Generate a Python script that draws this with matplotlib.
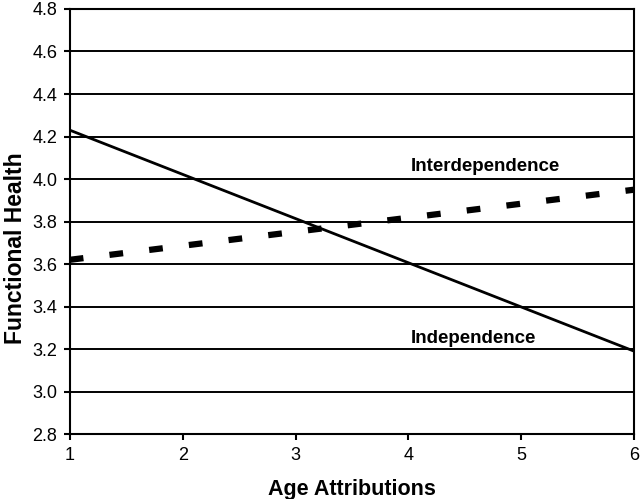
import matplotlib
matplotlib.use("Agg")
import matplotlib.pyplot as plt

age = [1, 6]
independence = [4.23, 3.19]
interdependence = [3.62, 3.95]
xticks = [1, 2, 3, 4, 5, 6]
yticks = [2.8, 3.0, 3.2, 3.4, 3.6, 3.8, 4.0, 4.2, 4.4, 4.6, 4.8]

plt.rcParams['font.family'] = ['Liberation Sans', 'DejaVu Sans']

fig = plt.figure(figsize=(6.4, 4.99), dpi=100)
ax = fig.add_axes([0.109, 0.130, 0.882, 0.852])

for y in yticks:
    ax.axhline(y, color='black', lw=1.4, zorder=1)

ax.plot(age, independence, color='black', lw=2, solid_capstyle='butt', zorder=3)
ax.plot(age, interdependence, color='black', lw=4.5, linestyle=(0, (2.2, 4.2)), zorder=3)

ax.text(4.02, 4.06, 'Interdependence', fontsize=13.5, fontweight='bold', va='center', ha='left')
ax.text(4.02, 3.25, 'Independence', fontsize=13.5, fontweight='bold', va='center', ha='left')

ax.set_xlim(1, 6)
ax.set_ylim(2.8, 4.8)
ax.set_xticks(xticks)
ax.set_xticklabels([str(v) for v in xticks])
ax.set_yticks(yticks)
ax.set_yticklabels([f"{v:.1f}" for v in yticks])
ax.tick_params(axis='both', direction='out', length=4, width=1.5, labelsize=13, color='black', pad=5)

for s in ['left', 'bottom', 'right', 'top']:
    ax.spines[s].set_linewidth(1.5)
    ax.spines[s].set_color('black')

ax.set_xlabel('Age Attributions', fontsize=15.5, fontweight='bold', labelpad=11)
ax.set_ylabel('Functional Health', fontsize=16.5, fontweight='bold')
ax.yaxis.set_label_coords(-0.075, 0.438)

fig.savefig('out.png', dpi=100)
